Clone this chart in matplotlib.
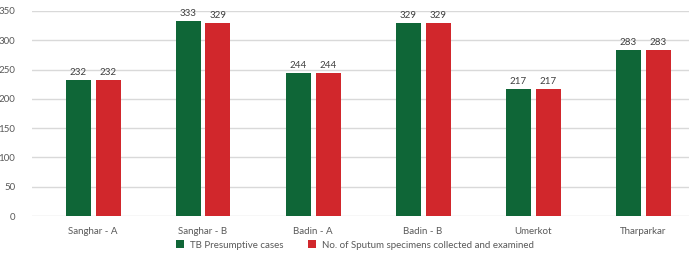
import numpy as np
import matplotlib
matplotlib.use("Agg")
import matplotlib.pyplot as plt

plt.rcParams['font.family'] = ['Lato', 'DejaVu Sans']

districts = ["Sanghar - A", "Sanghar - B", "Badin - A", "Badin - B", "Umerkot", "Tharparkar"]
presumptive = [232, 333, 244, 329, 217, 283]
sputum = [232, 329, 244, 329, 217, 283]
series_names = ["TB Presumptive cases", "No. of Sputum specimens collected and examined"]

green = "#0F6637"
red = "#D1272C"
grey = "#595959"

fig = plt.figure(figsize=(6.89, 2.57), dpi=100)
ax = fig.add_axes([32 / 689, 41 / 257, 1 - 32 / 689, 205 / 257])

x = np.arange(len(districts))
w = 25 / 110
off = 15 / 110
b1 = ax.bar(x - off, presumptive, w, color=green, label=series_names[0], zorder=3)
b2 = ax.bar(x + off, sputum, w, color=red, label=series_names[1], zorder=3)

for bars in (b1, b2):
    for r in bars:
        ax.text(r.get_x() + r.get_width() / 2, r.get_height() + 5, str(int(r.get_height())),
                ha='center', va='bottom', fontsize=7, color="#404040")

ax.set_ylim(0, 350)
ax.set_xlim(-61 / 110, 596 / 110)
ax.set_yticks(range(0, 351, 50))
ax.set_xticks(x)
ax.set_xticklabels(districts)
ax.tick_params(axis='both', length=0, labelsize=7, colors=grey)
ax.tick_params(axis='x', pad=8)
ax.tick_params(axis='y', pad=12)
ax.grid(axis='y', color="#D9D9D9", linewidth=1, zorder=0)
for s in ax.spines.values():
    s.set_visible(False)

fig.legend(handles=[b1, b2], loc='center', bbox_to_anchor=(355 / 689, 1 - 245 / 257),
           ncol=2, frameon=False, fontsize=7, handlelength=0.8, handleheight=0.8,
           columnspacing=2.5, handletextpad=0.6, labelcolor=grey)

fig.savefig("out.png", dpi=100)
